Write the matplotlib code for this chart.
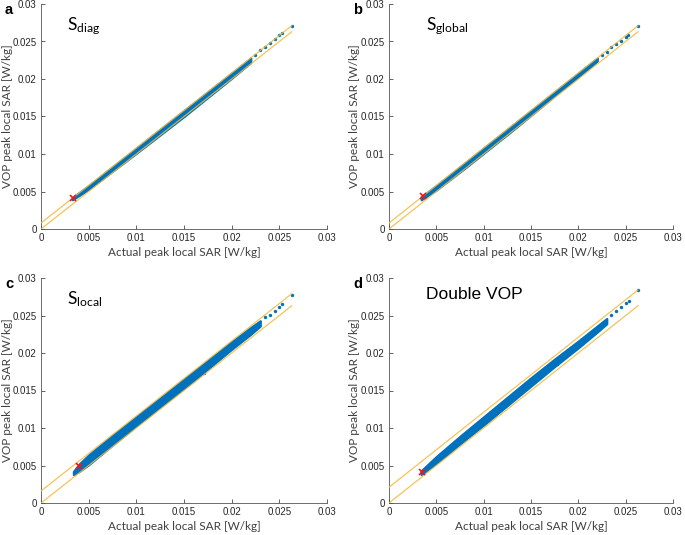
import matplotlib
matplotlib.use("Agg")
import numpy as np
import matplotlib.pyplot as plt

# tick values / labels shared by all panels
ticks = [0, 0.005, 0.01, 0.015, 0.02, 0.025, 0.03]
tick_labels = ["0", "0.005", "0.01", "0.015", "0.02", "0.025", "0.03"]

# a: S_diag
a_x = [0.0033, 0.005, 0.01, 0.015, 0.02, 0.022]
a_up = [0.0042, 0.0058, 0.0108, 0.0158, 0.0208, 0.0228]
a_lo = [0.0039, 0.0053, 0.0101, 0.0150, 0.0201, 0.0222]
a_sx = [0.0225, 0.023, 0.0235, 0.024, 0.0245, 0.025, 0.0253, 0.0263]
a_sy = [0.0232, 0.0238, 0.0243, 0.0248, 0.0253, 0.0258, 0.0261, 0.0271]
a_red = (0.0034, 0.0041)
a_off = 0.0008

# b: S_global
b_x = [0.0034, 0.005, 0.008, 0.01, 0.013, 0.016, 0.018, 0.02, 0.022]
b_up = [0.0043, 0.0058, 0.0088, 0.0108, 0.0138, 0.0168, 0.0188, 0.0208, 0.0228]
b_lo = [0.0039, 0.0052, 0.0081, 0.0101, 0.0131, 0.0162, 0.0183, 0.0203, 0.0224]
b_sx = [0.0225, 0.023, 0.0235, 0.024, 0.0245, 0.025, 0.0252, 0.0263]
b_sy = [0.0232, 0.0236, 0.0242, 0.0246, 0.025, 0.0256, 0.0259, 0.0271]
b_red = (0.0036, 0.0044)
b_off = 0.0008

# c: S_local
c_x = [0.0034, 0.004, 0.005, 0.007, 0.01, 0.013, 0.016, 0.018, 0.02, 0.022, 0.023]
c_up = [0.0042, 0.0052, 0.0064, 0.0085, 0.0115, 0.0145, 0.0175, 0.0195, 0.0215, 0.0234, 0.0243]
c_lo = [0.0038, 0.0042, 0.0051, 0.0072, 0.0103, 0.0133, 0.0163, 0.0184, 0.0205, 0.0225, 0.0236]
c_sx = [0.0171, 0.0235, 0.024, 0.0245, 0.025, 0.0253, 0.0263]
c_sy = [0.0173, 0.0248, 0.0251, 0.0256, 0.0262, 0.0265, 0.0277]
c_red = (0.0040, 0.0049)
c_off = 0.0016

# d: Double VOP
d_x = [0.0034, 0.005, 0.0075, 0.01, 0.0125, 0.015, 0.0175, 0.02, 0.022, 0.023]
d_up = [0.0043, 0.0062, 0.0089, 0.0115, 0.0141, 0.0167, 0.0192, 0.0216, 0.0236, 0.0246]
d_lo = [0.0038, 0.0053, 0.0079, 0.0104, 0.0130, 0.0156, 0.0182, 0.0207, 0.0228, 0.0239]
d_sx = [0.0177, 0.0235, 0.024, 0.0245, 0.025, 0.0253, 0.0263]
d_sy = [0.0185, 0.0251, 0.0256, 0.0262, 0.0267, 0.027, 0.0284]
d_red = (0.0035, 0.0041)
d_off = 0.0021

x_end = 0.0263

plt.rcParams['font.family'] = ['Liberation Sans', 'DejaVu Sans']
plt.rcParams['mathtext.fontset'] = 'custom'
plt.rcParams['mathtext.rm'] = 'Lato'

fig = plt.figure(figsize=(6.85, 5.35), dpi=100)
W, H = 685, 535

boxes = [(41, 4, 327, 229), (389, 4, 673, 229), (41, 278, 327, 503), (389, 278, 673, 503)]
panels = [
    ("a", r"$\mathrm{S_{diag}}$", 0.09, 0.90, a_x, a_lo, a_up, a_sx, a_sy, a_red, a_off),
    ("b", r"$\mathrm{S_{global}}$", 0.13, 0.90, b_x, b_lo, b_up, b_sx, b_sy, b_red, b_off),
    ("c", r"$\mathrm{S_{local}}$", 0.09, 0.905, c_x, c_lo, c_up, c_sx, c_sy, c_red, c_off),
    ("d", "Double VOP", 0.13, 0.925, d_x, d_lo, d_up, d_sx, d_sy, d_red, d_off),
]

blue = '#0072BD'
yellow = '#F2B93B'

for (l, t, r, b), p in zip(boxes, panels):
    letter, title, tx, ty, bx, lo, up, sx, sy, red, off = p
    ax = fig.add_axes([l / W, 1 - b / H, (r - l) / W, (b - t) / H])
    ax.fill_between(bx, lo, up, color=blue, lw=1.6, edgecolor=blue, zorder=2)
    ax.scatter(sx, sy, s=6, color=blue, marker='o', lw=0, zorder=2)
    ax.plot([0, x_end], [0, x_end], color=yellow, lw=0.9, alpha=0.85, zorder=3)
    ax.plot([0, x_end], [off, x_end + off], color=yellow, lw=0.9, alpha=0.85, zorder=3)
    ax.plot(*red, marker='x', color='#E8191F', ms=4, mew=1.2, zorder=4)
    ax.set_xlim(0, 0.03)
    ax.set_ylim(0, 0.03)
    ax.set_xticks(ticks)
    ax.set_xticklabels(tick_labels)
    ax.set_yticks(ticks)
    ax.set_yticklabels(tick_labels)
    ax.tick_params(direction='in', length=3, width=0.5, labelsize=7,
                   colors='#262626', pad=3)
    for s in ['top', 'right']:
        ax.spines[s].set_visible(False)
    for s in ['left', 'bottom']:
        ax.spines[s].set_linewidth(0.6)
        ax.spines[s].set_color('#555555')
    ax.set_xlabel("Actual peak local SAR [W/kg]", family='Lato', fontsize=8.5,
                  color='#404040', va='center')
    ax.set_ylabel("VOP peak local SAR [W/kg]", family='Lato', fontsize=8.5,
                  color='#404040', va='center')
    ax.xaxis.set_label_coords(0.5, -23 / (b - t), transform=ax.transAxes)
    ax.yaxis.set_label_coords(-34 / (r - l), 0.5, transform=ax.transAxes)
    ax.text(tx, ty, title, transform=ax.transAxes, fontsize=12.5,
            va='center', ha='left')
    fig.text((l - 36) / W, 1 - (t + 6) / H, letter, fontsize=10.5, fontweight='bold',
             va='center', ha='left')

fig.savefig("out.png", dpi=100)
